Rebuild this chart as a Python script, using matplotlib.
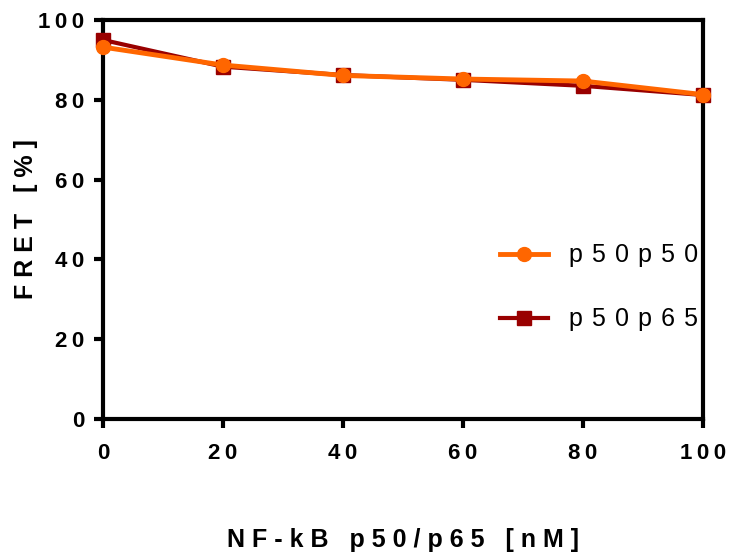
import matplotlib.pyplot as plt

plt.rcParams["font.family"] = ["Liberation Sans", "DejaVu Sans"]

# ---- data -----------------------------------------------------------------
conc = [0, 20, 40, 60, 80, 100]
fret_p50p65 = [95.0, 88.3, 86.2, 85.0, 83.5, 81.2]
fret_p50p50 = [93.2, 88.7, 86.1, 85.2, 84.7, 81.3]
xticks = [0, 20, 40, 60, 80, 100]
yticks = [0, 20, 40, 60, 80, 100]

RED = "#990000"
ORANGE = "#FF6600"


def spread(s, sep="\u2009"):
    # wide letter spacing, as in the original figure
    return sep.join(s)


fig = plt.figure(figsize=(7.3, 5.55), dpi=100)
ax = fig.add_axes([0.141, 0.245, 0.822, 0.719])

ax.plot(conc, fret_p50p65, color=RED, lw=3, marker="s", ms=10,
        label=spread("p50p65", " \u200a"), clip_on=False, zorder=3)
ax.plot(conc, fret_p50p50, color=ORANGE, lw=3.5, marker="o", ms=10,
        label=spread("p50p50", " \u200a"), clip_on=False, zorder=4)

ax.set_xlim(0, 100)
ax.set_ylim(0, 100)
ax.set_xticks(xticks)
ax.set_yticks(yticks)
ax.set_xticklabels([spread(str(t)) for t in xticks], fontsize=16, weight="bold")
ax.set_yticklabels([spread(str(t)) for t in yticks], fontsize=16, weight="bold")

for sp in ax.spines.values():
    sp.set_linewidth(3)
    sp.set_color("black")
ax.tick_params(direction="out", width=3, length=6.5)
ax.tick_params(axis="x", pad=11)
ax.tick_params(axis="y", pad=7)

ax.set_xlabel(spread("NF-kB p50/p65 [nM]", " "), fontsize=18, weight="bold",
              labelpad=46)
ax.set_ylabel(spread("FRET [%]", " "), fontsize=18, weight="bold", labelpad=0)

h, l = ax.get_legend_handles_labels()
ax.legend(h[::-1], l[::-1], loc="center left", bbox_to_anchor=(0.662, 0.33),
          frameon=False, fontsize=18, handlelength=1.9, labelspacing=1.6,
          handletextpad=0.85, borderpad=0, borderaxespad=0)

plt.savefig("out.png", dpi=100, facecolor="white")
